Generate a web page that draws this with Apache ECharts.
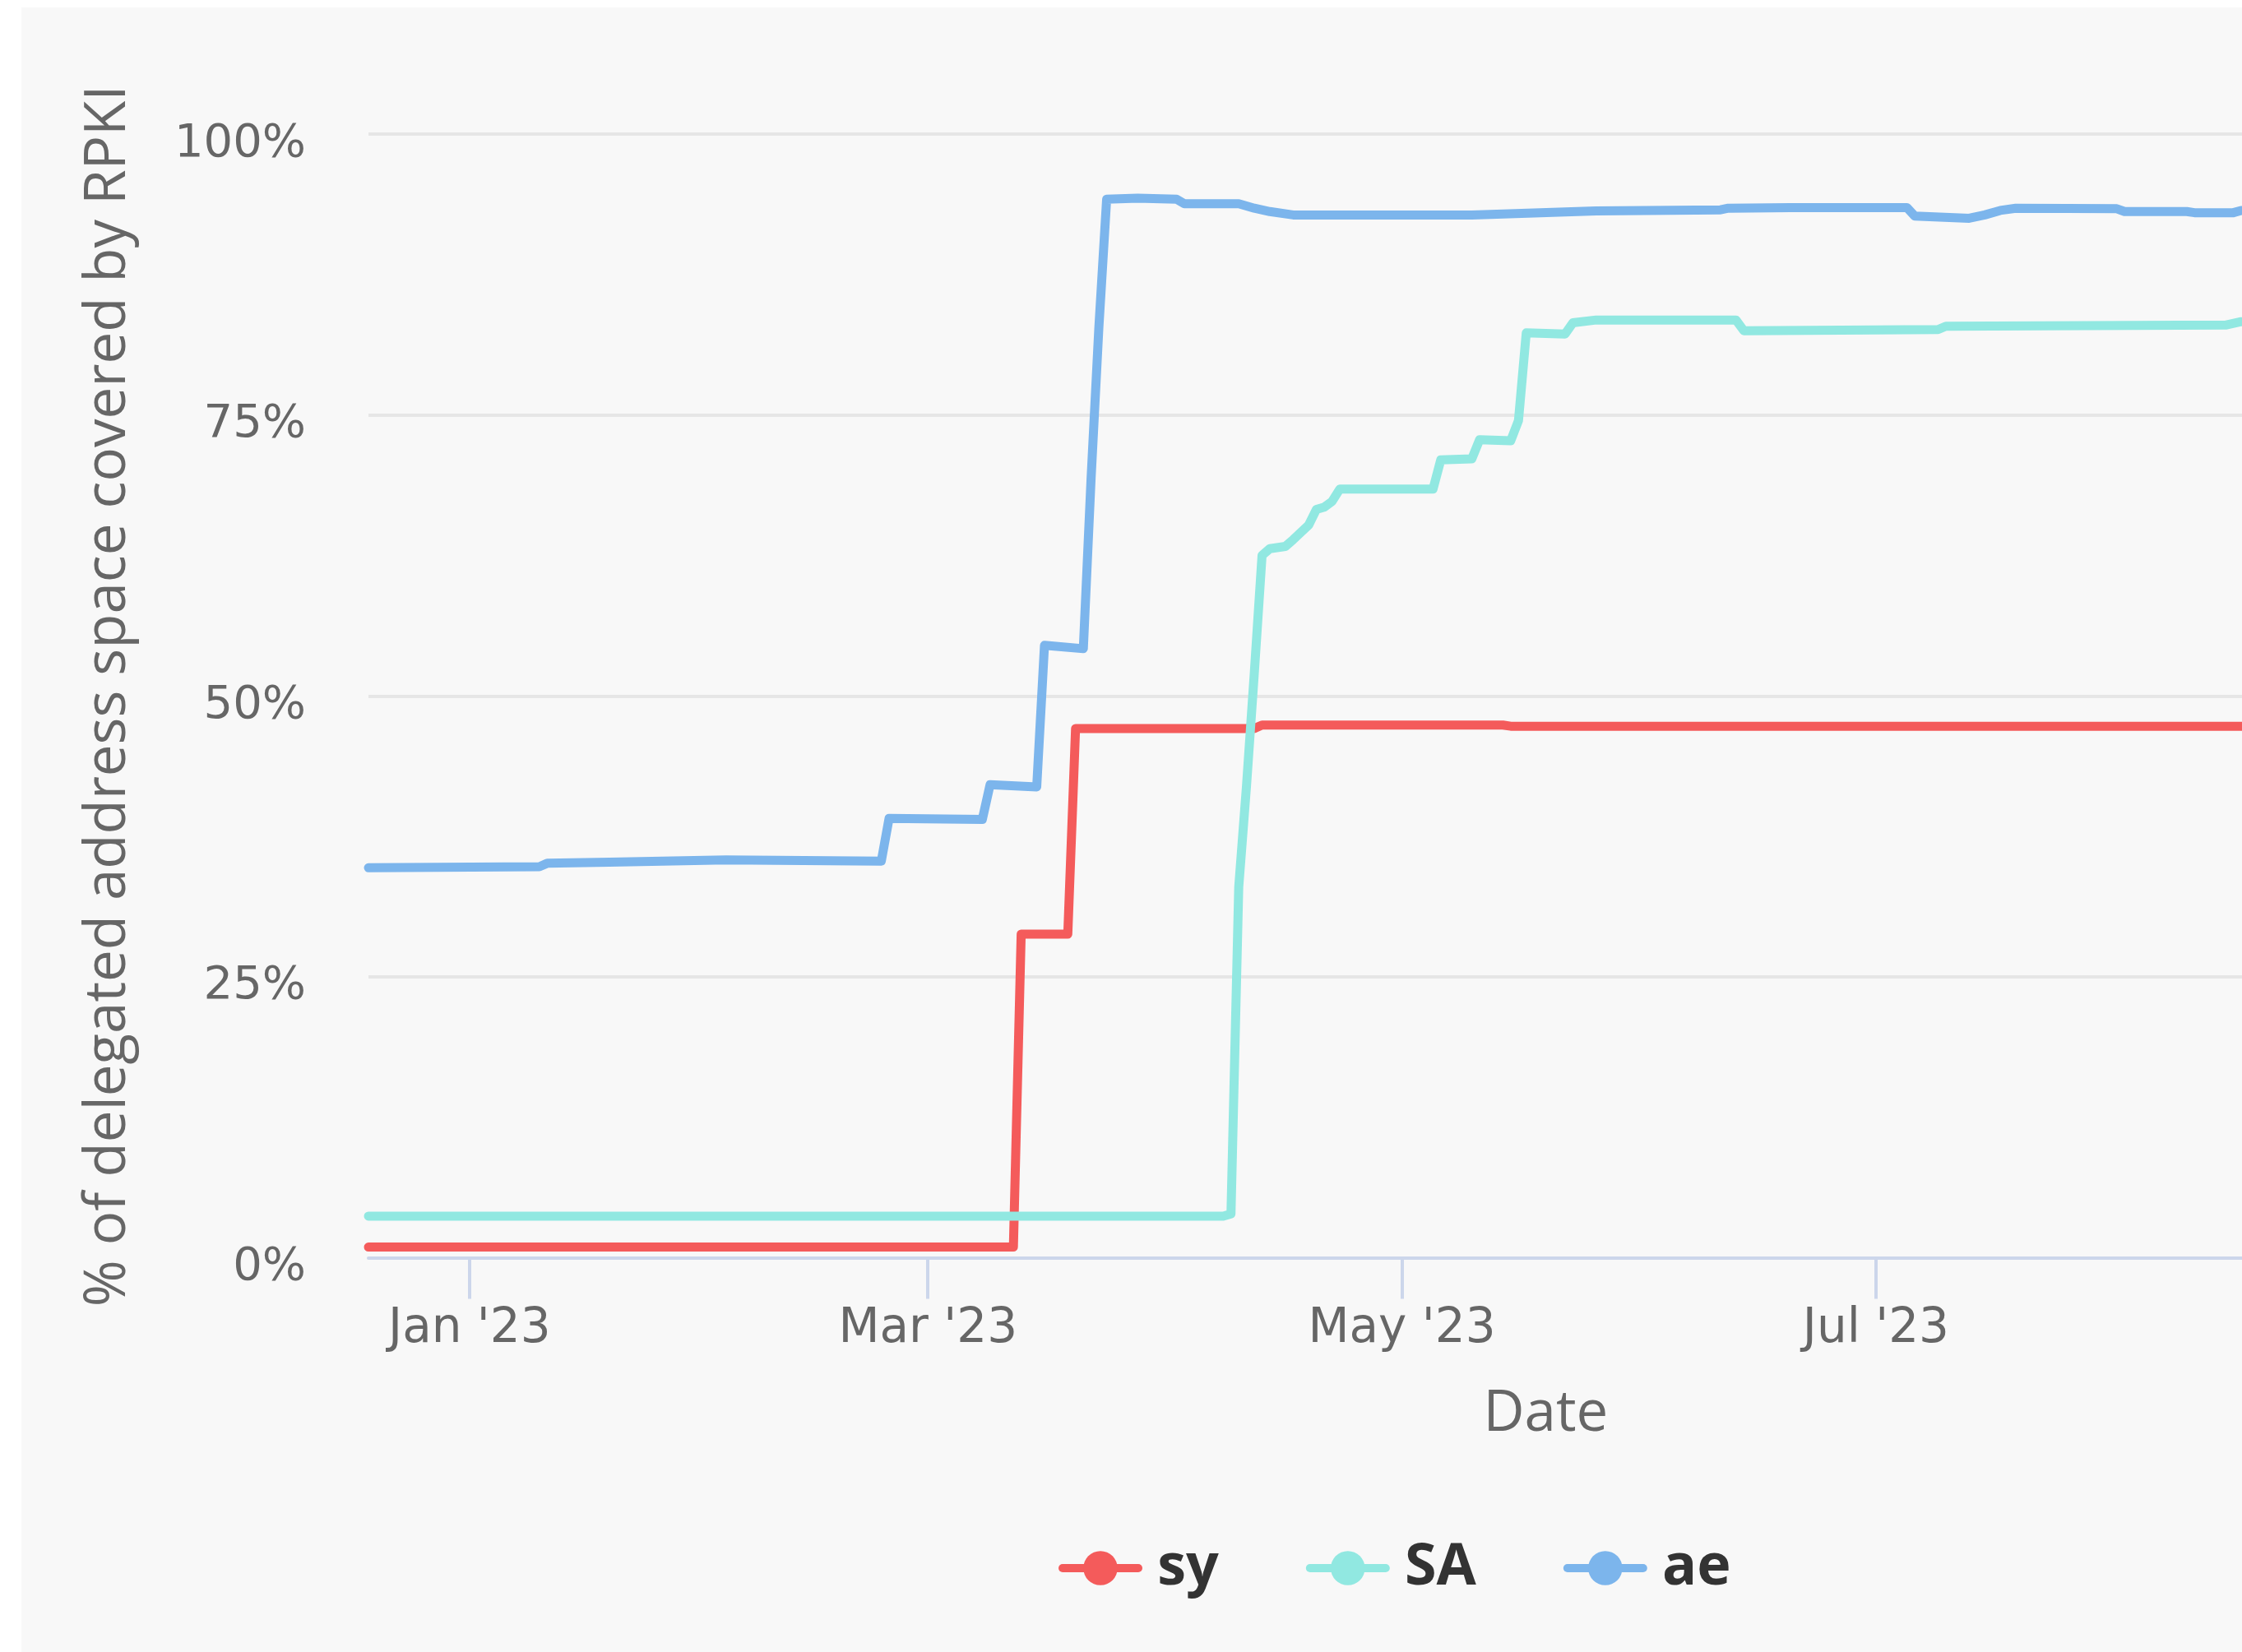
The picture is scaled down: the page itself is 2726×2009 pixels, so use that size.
<!DOCTYPE html>
<html><head><meta charset="utf-8">
<script src="https://cdn.jsdelivr.net/npm/echarts@6/dist/echarts.min.js"></script>
<style>
html,body{margin:0;padding:0;background:#ffffff;width:2726px;height:2009px;overflow:hidden;position:relative;}
#panel{position:absolute;left:26px;top:9px;right:0;bottom:0;background:#f8f8f8;}
#chart{position:absolute;left:0;top:0;width:3400px;height:2009px;}
</style></head><body>
<div id="panel"></div><div id="chart"></div>
<script>
// ---- data ----
const seriesNames = ['sy', 'SA', 'ae'];
const seriesColors = ['#f45b5b', '#91e8e1', '#7cb5ec'];

const syData = [
  ['2022-12-19', 0.95], ['2023-03-12', 0.95], ['2023-03-13', 28.8], ['2023-03-19', 28.8],
  ['2023-03-20', 47.1], ['2023-04-12', 47.1], ['2023-04-13', 47.4], ['2023-05-14', 47.4],
  ['2023-05-15', 47.3], ['2023-08-24', 47.3]
];
const saData = [
  ['2022-12-19', 3.7], ['2023-04-08', 3.7], ['2023-04-09', 3.9], ['2023-04-10', 33.0],
  ['2023-04-11', 42.0], ['2023-04-12', 52.0], ['2023-04-13', 62.5], ['2023-04-14', 63.1],
  ['2023-04-16', 63.3], ['2023-04-17', 63.9], ['2023-04-19', 65.2], ['2023-04-20', 66.6],
  ['2023-04-21', 66.8], ['2023-04-22', 67.3], ['2023-04-23', 68.4], ['2023-05-05', 68.4],
  ['2023-05-06', 71.0], ['2023-05-10', 71.1], ['2023-05-11', 72.8], ['2023-05-15', 72.7],
  ['2023-05-16', 74.5], ['2023-05-17', 82.3], ['2023-05-22', 82.2], ['2023-05-23', 83.2],
  ['2023-05-26', 83.45], ['2023-06-13', 83.45], ['2023-06-14', 82.5], ['2023-07-09', 82.6],
  ['2023-07-10', 82.9], ['2023-08-15', 83.0], ['2023-08-17', 83.3], ['2023-08-24', 83.3]
];
const aeData = [
  ['2022-12-19', 34.7], ['2023-01-10', 34.8], ['2023-01-11', 35.1], ['2023-01-19', 35.2],
  ['2023-02-03', 35.4], ['2023-02-23', 35.3], ['2023-02-24', 39.1], ['2023-03-08', 39.0],
  ['2023-03-09', 42.1], ['2023-03-15', 41.9], ['2023-03-16', 54.5], ['2023-03-21', 54.2],
  ['2023-03-22', 69.4], ['2023-03-23', 82.8], ['2023-03-24', 94.2], ['2023-03-28', 94.3],
  ['2023-04-02', 94.2], ['2023-04-03', 93.8], ['2023-04-10', 93.8], ['2023-04-12', 93.4],
  ['2023-04-14', 93.1], ['2023-04-17', 92.8], ['2023-05-10', 92.8], ['2023-05-26', 93.15],
  ['2023-06-11', 93.25], ['2023-06-12', 93.4], ['2023-06-20', 93.45], ['2023-07-05', 93.45],
  ['2023-07-06', 92.7], ['2023-07-13', 92.5], ['2023-07-15', 92.8], ['2023-07-17', 93.2],
  ['2023-07-19', 93.4], ['2023-08-01', 93.35], ['2023-08-02', 93.1], ['2023-08-10', 93.1],
  ['2023-08-11', 93.0], ['2023-08-16', 93.0], ['2023-08-17', 93.2], ['2023-08-24', 93.2]
];

const xTickDates = ['2023-01-01', '2023-03-01', '2023-05-01', '2023-07-01', '2023-09-01'];
const xTickLabels = ["Jan '23", "Mar '23", "May '23", "Jul '23", "Sep '23"];
const xRange = ['2022-12-19', '2023-10-18'];
const yTicks = [0, 25, 50, 75, 100];

const xTitle = 'Date';
const yTitle = '% of delegated address space covered by RPKI';

// ---- chart ----
const FONT = 'Open Sans';
const TICKFONT = 'DejaVu Sans';
const toTs = d => +echarts.time.parse(d);
const chart = echarts.init(document.getElementById('chart'), null, { renderer: 'canvas' });
const tickStamps = xTickDates.map(toTs);

const allData = [syData, saData, aeData];
const series = seriesNames.map((name, i) => ({
  name: name,
  type: 'line',
  data: allData[i].map(p => [toTs(p[0]), p[1]]),
  symbol: 'circle',
  showSymbol: false,
  smooth: false,
  lineStyle: { width: 11, color: seriesColors[i], cap: 'round', join: 'round' },
  itemStyle: { color: seriesColors[i] },
  emphasis: { disabled: true },
  z: 2 + i
}));

chart.setOption({
  animation: false,
  backgroundColor: 'transparent',
  color: seriesColors,
  grid: { left: 448, top: 163, bottom: 479.5, right: 89.3, containLabel: false },
  legend: {
    data: seriesNames,
    left: 1287,
    top: 1872,
    padding: 0,
    itemWidth: 92,
    itemHeight: 52,
    itemGap: 106,
    lineStyle: { width: 10 },
    formatter: n => ' ' + n,
    textStyle: { fontFamily: FONT, fontSize: 70, fontWeight: 'bold', color: '#333333' }
  },
  xAxis: {
    type: 'value',
    min: toTs(xRange[0]),
    max: toTs(xRange[1]),
    scale: true,
    name: xTitle,
    nameLocation: 'middle',
    nameGap: 156,
    nameTextStyle: { fontFamily: FONT, fontSize: 69, color: '#666666' },
    axisLine: { show: true, lineStyle: { color: '#ccd6eb', width: 4 } },
    axisTick: { show: true, length: 50, lineStyle: { color: '#ccd6eb', width: 4 }, customValues: tickStamps },
    axisLabel: {
      customValues: tickStamps,
      margin: 58,
      fontFamily: TICKFONT, fontSize: 58, color: '#666666',
      formatter: function (v) {
        const i = tickStamps.indexOf(+v);
        return i >= 0 ? xTickLabels[i] : '';
      }
    },
    splitLine: { show: false }
  },
  yAxis: {
    type: 'value',
    min: yTicks[0],
    max: yTicks[yTicks.length - 1],
    interval: yTicks[1] - yTicks[0],
    name: yTitle,
    nameLocation: 'middle',
    nameGap: 281,
    nameTextStyle: { fontFamily: FONT, fontSize: 69, color: '#666666' },
    axisLine: { show: false },
    axisTick: { show: false },
    axisLabel: { margin: 76, verticalAlign: 'top', lineHeight: 24, fontFamily: TICKFONT, fontSize: 56, color: '#666666', formatter: '{value}%' },
    splitLine: { show: true, lineStyle: { color: '#e6e6e6', width: 4 } }
  },
  series: series
});
</script>
</body></html>
